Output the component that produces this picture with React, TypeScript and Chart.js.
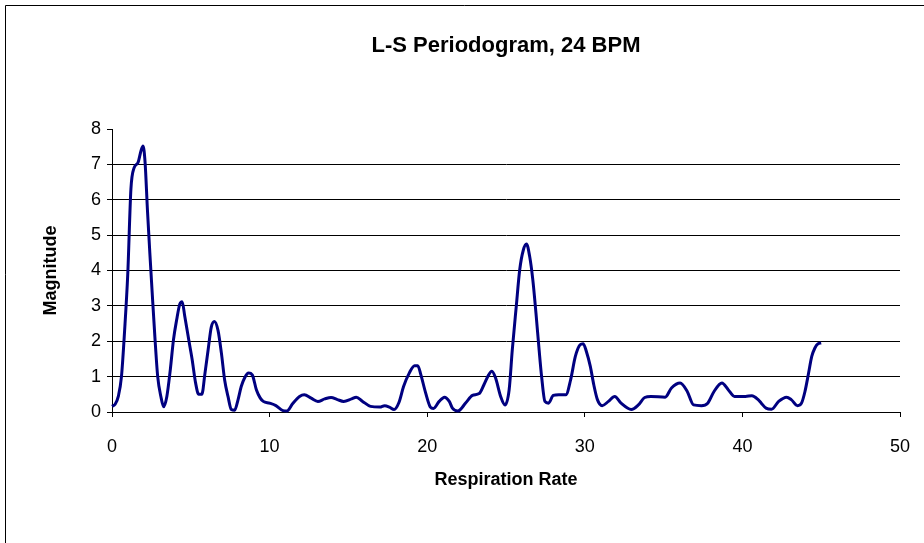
import React, { useEffect, useRef } from "react";
import { Chart, registerables } from "chart.js";

Chart.register(...registerables);

const FONT = "'Liberation Sans', Arial, sans-serif";

const chartTitle = "L-S Periodogram, 24 BPM";
const xAxisTitle = "Respiration Rate";
const yAxisTitle = "Magnitude";

// Respiration rate (x) and periodogram magnitude (y)
const rates = [
  0.0, 0.2, 0.4, 0.6, 0.8, 1.0, 1.2, 1.4, 1.65, 1.85, 1.97, 2.1, 2.25, 2.4, 2.55, 2.72, 2.9, 3.1, 3.28, 3.48,
  3.7, 3.9, 4.1, 4.3, 4.45, 4.62, 4.87, 5.08, 5.3, 5.5, 5.7, 5.9, 6.1, 6.3, 6.5, 6.73, 6.94, 7.15, 7.36, 7.57,
  7.78, 8.0, 8.2, 8.42, 8.67, 8.9, 9.16, 9.4, 9.6, 10.0, 10.4, 10.85, 11.1, 11.47, 11.9, 12.2, 12.64, 13.06, 13.5, 13.9,
  14.3, 14.7, 15.2, 15.5, 15.9, 16.4, 17.0, 17.3, 17.6, 17.9, 18.2, 18.5, 18.86, 19.2, 19.4, 19.6, 19.9, 20.2, 20.4, 20.76,
  21.1, 21.4, 21.6, 21.95, 22.45, 22.87, 23.3, 23.6, 23.9, 24.1, 24.34, 24.66, 24.94, 25.2, 25.4, 25.65, 25.87, 26.1, 26.3, 26.5,
  26.7, 26.9, 27.1, 27.26, 27.47, 27.7, 28.0, 28.35, 28.8, 29.1, 29.4, 29.7, 29.9, 30.1, 30.35, 30.57, 30.8, 31.1, 31.5, 31.9,
  32.3, 32.95, 33.4, 33.8, 34.2, 35.1, 35.5, 36.05, 36.5, 36.9, 37.4, 37.8, 38.2, 38.7, 39.1, 39.5, 40.2, 40.6, 41.0, 41.2,
  41.5, 41.85, 42.3, 42.8, 43.1, 43.5, 43.75, 43.97, 44.2, 44.4, 44.6, 44.8, 45.0,
];
const magnitudes = [
  0.16, 0.22, 0.44, 1.0, 2.3, 3.9, 6.3, 6.9, 7.05, 7.4, 7.52, 7.05, 5.7, 4.5, 3.37, 2.13, 1.0, 0.44, 0.15, 0.44,
  1.2, 2.04, 2.6, 3.05, 3.12, 2.7, 2.04, 1.5, 0.83, 0.5, 0.5, 1.1, 1.76, 2.4, 2.56, 2.3, 1.67, 0.9, 0.44, 0.07,
  0.05, 0.35, 0.72, 0.97, 1.1, 1.05, 0.63, 0.4, 0.3, 0.25, 0.18, 0.04, 0.03, 0.24, 0.44, 0.49, 0.39, 0.3, 0.37, 0.41,
  0.35, 0.3, 0.37, 0.42, 0.3, 0.16, 0.14, 0.18, 0.14, 0.07, 0.26, 0.72, 1.1, 1.31, 1.31, 1.05, 0.54, 0.14, 0.1, 0.3,
  0.42, 0.3, 0.11, 0.03, 0.26, 0.47, 0.52, 0.77, 1.05, 1.15, 0.96, 0.44, 0.2, 0.63, 1.76, 2.98, 4.02, 4.58, 4.75, 4.4,
  3.74, 2.8, 1.76, 1.0, 0.3, 0.25, 0.47, 0.49, 0.49, 0.91, 1.57, 1.9, 1.93, 1.71, 1.29, 0.77, 0.35, 0.18, 0.3, 0.44,
  0.25, 0.07, 0.2, 0.41, 0.44, 0.42, 0.68, 0.82, 0.58, 0.2, 0.18, 0.25, 0.58, 0.82, 0.63, 0.44, 0.44, 0.46, 0.35, 0.25,
  0.11, 0.08, 0.3, 0.42, 0.35, 0.18, 0.25, 0.58, 1.1, 1.57, 1.81, 1.93, 1.95,
];

const xTickValues = [0, 10, 20, 30, 40, 50];
const yTickValues = [0, 1, 2, 3, 4, 5, 6, 7, 8];

const outerBorder = {
  id: "outerBorder",
  beforeDraw(chart: any) {
    const ctx = chart.ctx;
    ctx.save();
    ctx.fillStyle = "#fff";
    ctx.fillRect(0, 0, chart.width, chart.height);
    ctx.strokeStyle = "#000";
    ctx.lineWidth = 1;
    ctx.beginPath();
    ctx.moveTo(5.5, chart.height);
    ctx.lineTo(5.5, 5.5);
    ctx.lineTo(chart.width, 5.5);
    ctx.stroke();
    ctx.restore();
  },
};

export default function App() {
  const canvasRef = useRef<HTMLCanvasElement | null>(null);

  useEffect(() => {
    const canvas = canvasRef.current;
    if (!canvas) return;
    const chart = new Chart(canvas, {
      type: "line",
      data: {
        datasets: [
          {
            data: rates.map((r, i) => ({ x: r, y: magnitudes[i] })),
            borderColor: "#000080",
            borderWidth: 3,
            pointRadius: 0,
            tension: 0.4,
            cubicInterpolationMode: "monotone",
            fill: false,
            clip: false as any,
          },
        ],
      },
      options: {
        animation: false,
        responsive: false,
        devicePixelRatio: 1,
        events: [],
        layout: { padding: { left: 0, right: 24, top: 0, bottom: 0 } },
        plugins: {
          legend: { display: false },
          tooltip: { enabled: false },
          title: {
            display: true,
            text: chartTitle,
            fullSize: false,
            color: "#000",
            font: { family: FONT, size: 22, weight: "bold", lineHeight: 1.2 },
            padding: { top: 33, bottom: 69.6 },
          },
        },
        scales: {
          x: {
            type: "linear",
            min: 0,
            max: 50,
            afterBuildTicks: (s: any) => {
              s.ticks = xTickValues.map((v) => ({ value: v }));
            },
            afterFit: (s: any) => {
              s.height = 131;
              s.paddingLeft = 0;
              s.paddingRight = 0;
            },
            grid: { drawOnChartArea: false, tickLength: 5, color: "#000", tickColor: "#000" },
            border: { color: "#000", width: 1 },
            ticks: { color: "#000", font: { family: FONT, size: 18 }, padding: 19, maxRotation: 0, autoSkip: false },
            title: {
              display: true,
              text: xAxisTitle,
              color: "#000",
              font: { family: FONT, size: 18, weight: "bold", lineHeight: 1.2 },
              padding: { top: 0, bottom: 52 },
            },
          },
          y: {
            type: "linear",
            min: 0,
            max: 8,
            afterBuildTicks: (s: any) => {
              s.ticks = yTickValues.map((v) => ({ value: v }));
            },
            afterFit: (s: any) => {
              s.width = 112;
              s.paddingTop = 0;
              s.paddingBottom = 0;
            },
            grid: {
              color: (c: any) => (c.tick && c.tick.value === 8 ? "rgba(0,0,0,0)" : "#000"),
              tickColor: "#000",
              tickLength: 5,
            },
            border: { color: "#000", width: 1 },
            ticks: { color: "#000", font: { family: FONT, size: 18 }, padding: 6, autoSkip: false },
            title: {
              display: true,
              text: yAxisTitle,
              color: "#000",
              font: { family: FONT, size: 18, weight: "bold", lineHeight: 1.2 },
              padding: { top: 40, bottom: 0 },
            },
          },
        },
      },
      plugins: [outerBorder],
    } as any);
    return () => chart.destroy();
  }, []);

  return (
    <div style={{ position: "fixed", left: 0, top: 0, width: 924, height: 543, background: "#fff" }}>
      <canvas ref={canvasRef} width={924} height={543} style={{ display: "block" }} />
    </div>
  );
}
